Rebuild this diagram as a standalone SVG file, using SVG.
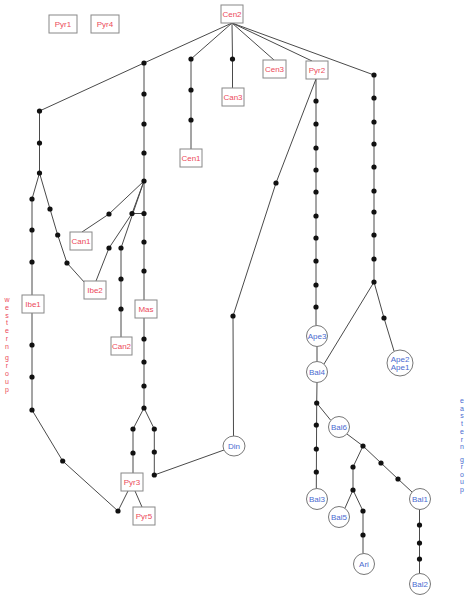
<svg xmlns="http://www.w3.org/2000/svg" width="469" height="600" viewBox="0 0 469 600">
<style>
.e{stroke:#4a4a4a;stroke-width:1;fill:none}
.b{fill:#fff;stroke:#888;stroke-width:1}
.c{fill:#fff;stroke:#777;stroke-width:1}
.d{fill:#111}
.r{font-family:"Liberation Sans",Arial,sans-serif;font-size:8px;fill:#ec4a5a;text-anchor:middle;dominant-baseline:central}
.u{font-family:"Liberation Sans",Arial,sans-serif;font-size:8px;fill:#4a6bd0;text-anchor:middle;dominant-baseline:central}
.vr{font-family:"Liberation Sans",Arial,sans-serif;font-size:7px;fill:#ec4a5a;text-anchor:middle}
.vu{font-family:"Liberation Sans",Arial,sans-serif;font-size:7px;fill:#4a6bd0;text-anchor:middle}
</style>
<rect width="469" height="600" fill="#fff"/>
<g id="connectors">
<polyline class="e" points="232,23 144,63 39.5,111 39.5,173"/>
<polyline class="e" points="232,23 191,59 191,149"/>
<polyline class="e" points="232,23 232.5,59 232.5,88"/>
<polyline class="e" points="232,23 274,60"/>
<polyline class="e" points="232,23 312,61"/>
<polyline class="e" points="232,23 374,75 374,282"/>
<polyline class="e" points="144,63 144,300"/>
<polyline class="e" points="144,318 144,408"/>
<polyline class="e" points="144,408 133,429 133,473"/>
<polyline class="e" points="144,408 154.3,429 154.3,475 224,450"/>
<polyline class="e" points="144,181 109,214 82,232"/>
<polyline class="e" points="144,181 132,213.5 144,213.5"/>
<polyline class="e" points="132,213.5 109,248 96,281"/>
<polyline class="e" points="144,181 121,248 121,337"/>
<polyline class="e" points="39.5,173 32,199 32,295"/>
<polyline class="e" points="32,313 32,410 62.7,461 118,511 128,491"/>
<polyline class="e" points="39.5,173 50,209 57.7,235 67,263 85,283"/>
<line class="e" x1="135" y1="491" x2="142" y2="507"/>
<polyline class="e" points="316,79 316,325.5"/>
<line class="e" x1="317" y1="346.5" x2="317" y2="361.5"/>
<polyline class="e" points="316,79 276,183 233,316 233.5,436"/>
<line class="e" x1="374" y1="282" x2="324" y2="364"/>
<polyline class="e" points="374,282 384,318 394,351"/>
<polyline class="e" points="317,382.5 316.7,403 316.3,488.5"/>
<line class="e" x1="316.7" y1="403" x2="330.5" y2="420"/>
<polyline class="e" points="347,434 363,446 353,467 353,490 345,508"/>
<polyline class="e" points="353,490 363,511 363,553.5"/>
<polyline class="e" points="363,446 381,463 398,479 412,492"/>
<line class="e" x1="419.5" y1="509.5" x2="419.5" y2="573.5"/>
</g>
<g id="median-vectors" class="d">
<circle cx="144" cy="63" r="2.6"/>
<circle cx="39.5" cy="111" r="2.6"/>
<circle cx="39.5" cy="143" r="2.6"/>
<circle cx="39.5" cy="173" r="2.6"/>
<circle cx="32" cy="199" r="2.6"/>
<circle cx="32" cy="230" r="2.6"/>
<circle cx="32" cy="262" r="2.6"/>
<circle cx="32" cy="345" r="2.6"/>
<circle cx="32" cy="377" r="2.6"/>
<circle cx="32" cy="410" r="2.6"/>
<circle cx="62.7" cy="461" r="2.6"/>
<circle cx="118" cy="511" r="2.6"/>
<circle cx="50" cy="209" r="2.6"/>
<circle cx="57.7" cy="235" r="2.6"/>
<circle cx="67" cy="263" r="2.6"/>
<circle cx="144" cy="94" r="2.6"/>
<circle cx="144" cy="124" r="2.6"/>
<circle cx="144" cy="153" r="2.6"/>
<circle cx="144" cy="181" r="2.6"/>
<circle cx="144" cy="213.5" r="2.6"/>
<circle cx="144" cy="242" r="2.6"/>
<circle cx="144" cy="271" r="2.6"/>
<circle cx="144" cy="339" r="2.6"/>
<circle cx="144" cy="362" r="2.6"/>
<circle cx="144" cy="386" r="2.6"/>
<circle cx="144" cy="408" r="2.6"/>
<circle cx="133" cy="429" r="2.6"/>
<circle cx="133" cy="453" r="2.6"/>
<circle cx="154.3" cy="429" r="2.6"/>
<circle cx="154.3" cy="452" r="2.6"/>
<circle cx="154.3" cy="475" r="2.6"/>
<circle cx="109" cy="214" r="2.6"/>
<circle cx="132" cy="213.5" r="2.6"/>
<circle cx="109" cy="248" r="2.6"/>
<circle cx="121" cy="248" r="2.6"/>
<circle cx="121" cy="279" r="2.6"/>
<circle cx="121" cy="309" r="2.6"/>
<circle cx="191" cy="59" r="2.6"/>
<circle cx="191" cy="90" r="2.6"/>
<circle cx="191" cy="120" r="2.6"/>
<circle cx="232.5" cy="59" r="2.6"/>
<circle cx="316" cy="101" r="2.6"/>
<circle cx="316" cy="124" r="2.6"/>
<circle cx="316" cy="148" r="2.6"/>
<circle cx="316" cy="170" r="2.6"/>
<circle cx="316" cy="192" r="2.6"/>
<circle cx="316" cy="216" r="2.6"/>
<circle cx="316" cy="238" r="2.6"/>
<circle cx="316" cy="261" r="2.6"/>
<circle cx="316" cy="285" r="2.6"/>
<circle cx="316" cy="307" r="2.6"/>
<circle cx="374" cy="75" r="2.6"/>
<circle cx="374" cy="98" r="2.6"/>
<circle cx="374" cy="122" r="2.6"/>
<circle cx="374" cy="144" r="2.6"/>
<circle cx="374" cy="167" r="2.6"/>
<circle cx="374" cy="191" r="2.6"/>
<circle cx="374" cy="212" r="2.6"/>
<circle cx="374" cy="235" r="2.6"/>
<circle cx="374" cy="259" r="2.6"/>
<circle cx="374" cy="282" r="2.6"/>
<circle cx="384" cy="318" r="2.6"/>
<circle cx="276" cy="183" r="2.6"/>
<circle cx="233" cy="316" r="2.6"/>
<circle cx="316.7" cy="403" r="2.6"/>
<circle cx="316.3" cy="425" r="2.6"/>
<circle cx="316.3" cy="449" r="2.6"/>
<circle cx="316.3" cy="472" r="2.6"/>
<circle cx="363" cy="446" r="2.6"/>
<circle cx="353" cy="467" r="2.6"/>
<circle cx="353" cy="490" r="2.6"/>
<circle cx="363" cy="511" r="2.6"/>
<circle cx="363" cy="535" r="2.6"/>
<circle cx="381" cy="463" r="2.6"/>
<circle cx="398" cy="479" r="2.6"/>
<circle cx="419.5" cy="525" r="2.6"/>
<circle cx="419.5" cy="543" r="2.6"/>
<circle cx="419.5" cy="559" r="2.6"/>
</g>
<g id="Pyr1"><rect class="b" x="49" y="15" width="28" height="18"/><text class="r" x="63" y="24">Pyr1</text></g>
<g id="Pyr4"><rect class="b" x="91" y="15" width="28" height="18"/><text class="r" x="105" y="24">Pyr4</text></g>
<g id="Cen2"><rect class="b" x="221" y="5" width="22" height="18"/><text class="r" x="232" y="14">Cen2</text></g>
<g id="Can3"><rect class="b" x="222" y="88" width="22" height="18"/><text class="r" x="233" y="97">Can3</text></g>
<g id="Cen3"><rect class="b" x="263" y="60" width="23" height="18"/><text class="r" x="274.5" y="69">Cen3</text></g>
<g id="Pyr2"><rect class="b" x="306" y="61" width="22" height="18"/><text class="r" x="317" y="70">Pyr2</text></g>
<g id="Cen1"><rect class="b" x="180" y="149" width="22" height="18"/><text class="r" x="191" y="158">Cen1</text></g>
<g id="Can1"><rect class="b" x="70" y="232" width="22" height="18"/><text class="r" x="81" y="241">Can1</text></g>
<g id="Ibe2"><rect class="b" x="84" y="281" width="22" height="18"/><text class="r" x="95" y="290">Ibe2</text></g>
<g id="Ibe1"><rect class="b" x="22" y="295" width="22" height="18"/><text class="r" x="33" y="304">Ibe1</text></g>
<g id="Mas"><rect class="b" x="135" y="300" width="22" height="18"/><text class="r" x="146" y="309">Mas</text></g>
<g id="Can2"><rect class="b" x="111" y="337" width="21" height="18"/><text class="r" x="121.5" y="346">Can2</text></g>
<g id="Pyr3"><rect class="b" x="121" y="473" width="22" height="18"/><text class="r" x="132" y="482">Pyr3</text></g>
<g id="Pyr5"><rect class="b" x="133" y="507" width="22" height="18"/><text class="r" x="144" y="516">Pyr5</text></g>
<g id="Ape3"><circle class="c" cx="317" cy="336" r="10.5"/><text class="u" x="317" y="336">Ape3</text></g>
<g id="Bal4"><circle class="c" cx="317" cy="372" r="10.5"/><text class="u" x="317" y="372">Bal4</text></g>
<g id="Ape2-Ape1"><circle class="c" cx="400" cy="363" r="13"/><text class="u" x="400" y="359">Ape2</text><text class="u" x="400" y="367">Ape1</text></g>
<g id="Din"><ellipse class="c" cx="234" cy="446" rx="11" ry="10"/><text class="u" x="234" y="446">Din</text></g>
<g id="Bal6"><circle class="c" cx="339" cy="427" r="10.5"/><text class="u" x="339" y="427">Bal6</text></g>
<g id="Bal3"><circle class="c" cx="317" cy="499" r="10.5"/><text class="u" x="317" y="499">Bal3</text></g>
<g id="Bal5"><circle class="c" cx="339" cy="517" r="10.5"/><text class="u" x="339" y="517">Bal5</text></g>
<g id="Bal1"><circle class="c" cx="420" cy="499" r="10.5"/><text class="u" x="420" y="499">Bal1</text></g>
<g id="Ari"><circle class="c" cx="364" cy="564" r="10.5"/><text class="u" x="364" y="564">Ari</text></g>
<g id="Bal2"><circle class="c" cx="420" cy="584" r="10.5"/><text class="u" x="420" y="584">Bal2</text></g>
<g id="western-group-label">
<text class="vr" x="7" y="301.5">w</text>
<text class="vr" x="7" y="309.5">e</text>
<text class="vr" x="7" y="317.5">s</text>
<text class="vr" x="7" y="324.5">t</text>
<text class="vr" x="7" y="332.5">e</text>
<text class="vr" x="7" y="340.5">r</text>
<text class="vr" x="7" y="348.5">n</text>
<text class="vr" x="7" y="359.5">g</text>
<text class="vr" x="7" y="367.5">r</text>
<text class="vr" x="7" y="375.5">o</text>
<text class="vr" x="7" y="383.5">u</text>
<text class="vr" x="7" y="391.5">p</text>
</g>
<g id="eastern-group-label">
<text class="vu" x="462" y="403">e</text>
<text class="vu" x="462" y="410.5">a</text>
<text class="vu" x="462" y="418">s</text>
<text class="vu" x="462" y="425.5">t</text>
<text class="vu" x="462" y="434">e</text>
<text class="vu" x="462" y="441.5">r</text>
<text class="vu" x="462" y="449">n</text>
<text class="vu" x="462" y="461.5">g</text>
<text class="vu" x="462" y="469">r</text>
<text class="vu" x="462" y="476.5">o</text>
<text class="vu" x="462" y="484">u</text>
<text class="vu" x="462" y="492">p</text>
</g>
</svg>
